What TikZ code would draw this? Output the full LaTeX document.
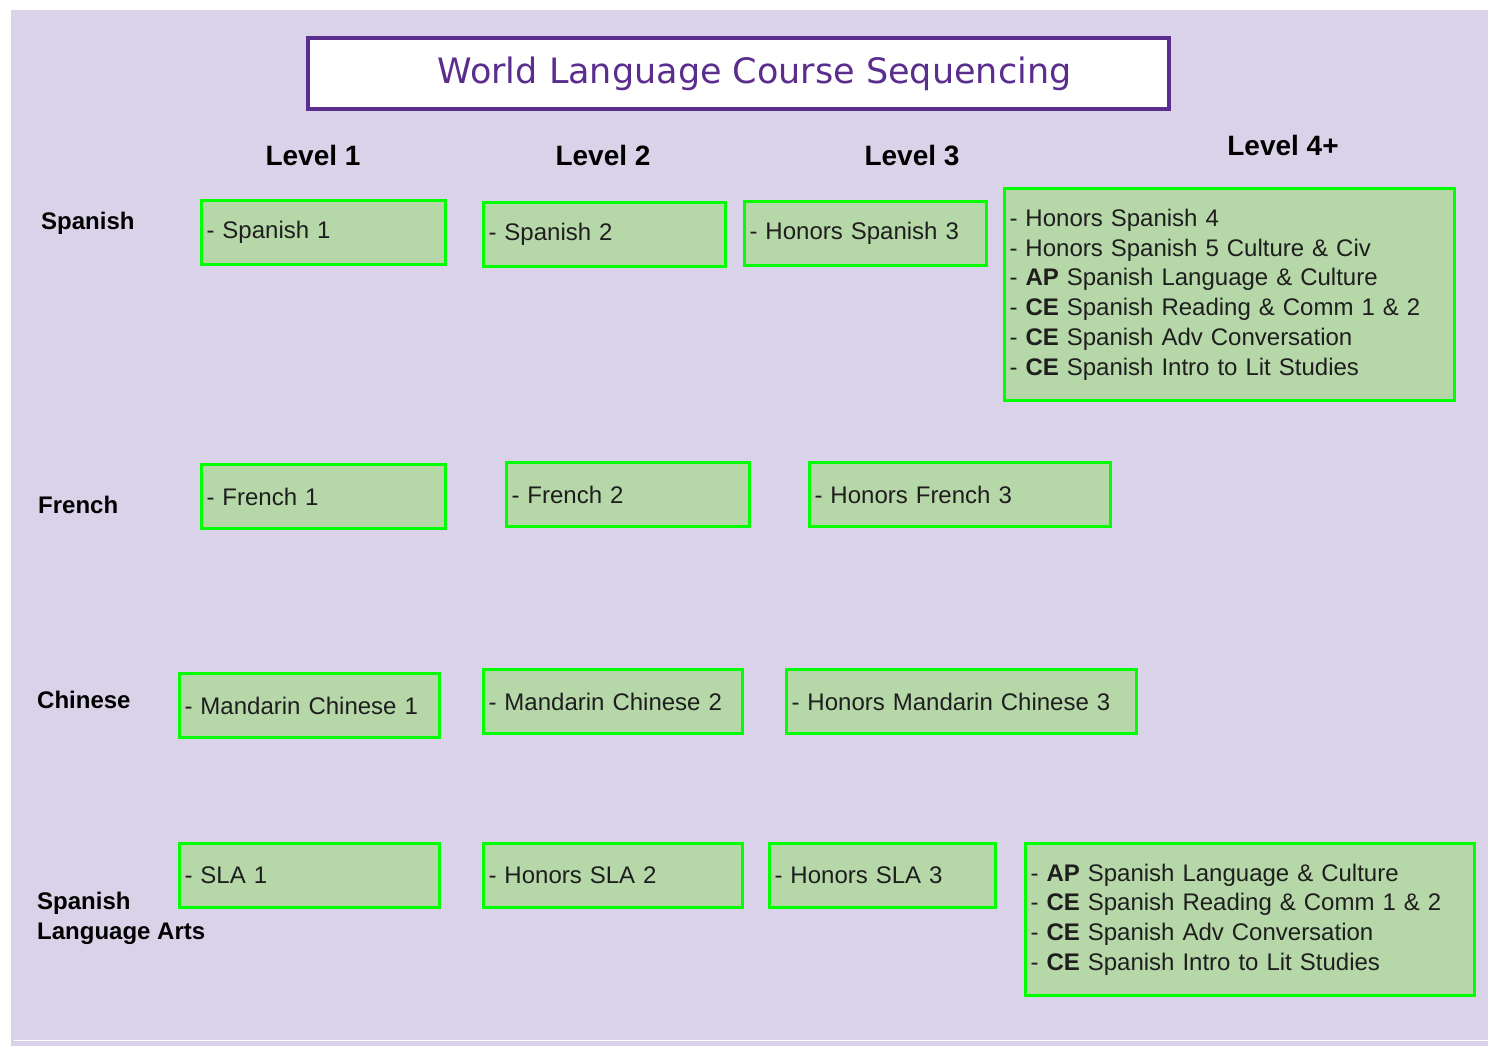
\documentclass[tikz,border=0pt]{standalone}
\usepackage{fontspec}
\setmainfont{Liberation Sans}
\newfontfamily\titlefont{DejaVu Sans}

\definecolor{bglav}{RGB}{217,210,233}
\definecolor{titlepurple}{RGB}{91,45,142}
\definecolor{coursefill}{RGB}{182,215,168}
\definecolor{coursegreen}{RGB}{0,255,0}
\definecolor{coursetext}{RGB}{30,30,30}

\tikzset{
  titlebox/.style = {draw=titlepurple, fill=white, line width=4pt,
                     minimum width=861pt, minimum height=71pt},
  titletext/.style = {text=titlepurple, font=\titlefont\fontsize{35}{42}\selectfont},
  level/.style = {font=\bfseries\fontsize{28}{34}\selectfont, anchor=base},
  lang/.style = {font=\bfseries\fontsize{24}{30}\selectfont, align=left, inner xsep=0pt},
  course/.style = {draw=coursegreen, fill=coursefill, line width=3pt,
                   text=coursetext, inner xsep=5pt, minimum height=64pt,
                   align=left, text width=#1,
                   font=\fontsize{24}{29.8}\selectfont}
}

\begin{document}
\begin{tikzpicture}[x=1pt, y=-1pt]
    \useasboundingbox (0,0) rectangle (1488,1046);

    % Background
    \fill[bglav] (11,10) rectangle (1488,1046);
    \draw[white, line width=1.5pt] (14,1040.5) -- (1488,1040.5);

    % Title
    \node[titlebox] (titlebox) at (738.5,73.5) {};
    \node[titletext, anchor=base] (title) at (754.5,84) {World Language Course Sequencing};

    % Levels
    \foreach \x/\y/\t [count=\i] in {313/165/1, 603/165/2, 912/165/3, 1283/156/4+}
        \node[level] (lvl\i) at (\x,\y) {Level \t};

    % Languages
    \node[lang, anchor=base west] (spanish) at (41,229.5) {Spanish};
    \node[lang, anchor=base west] (french) at (38,513.5) {French};
    \node[lang, anchor=base west] (chinese) at (37,708.5) {Chinese};
    \node[lang, anchor=west] (sla) at (37,918) {Spanish\\Language Arts};

    % Spanish
    \node[course=234pt] (sp1) at (323.5,232.5) {- Spanish 1};
    \node[course=232pt] (sp2) at (604.5,234) {- Spanish 2};
    \node[course=232pt] (sp3) at (865.5,233) {- Honors Spanish 3};
    \node[course=440pt, minimum height=212pt] (sp4) at (1229.5,294.5)
        {- Honors Spanish 4\\
         - Honors Spanish 5 Culture \& Civ\\
         - \textbf{AP} Spanish Language \& Culture\\
         - \textbf{CE} Spanish Reading \& Comm 1 \& 2\\
         - \textbf{CE} Spanish Adv Conversation\\
         - \textbf{CE} Spanish Intro to Lit Studies};

    % French
    \node[course=234pt] (fr1) at (323.5,496.5) {- French 1};
    \node[course=233pt] (fr2) at (628,494.5) {- French 2};
    \node[course=291pt] (fr3) at (960,494.5) {- Honors French 3};

    % Chinese
    \node[course=250pt] (ch1) at (309.5,705.5) {- Mandarin Chinese 1};
    \node[course=249pt] (ch2) at (613,701.5) {- Mandarin Chinese 2};
    \node[course=340pt] (ch3) at (961.5,701.5) {- Honors Mandarin Chinese 3};

    % Spanish Language Arts
    \node[course=250pt] (sla1) at (309.5,875.5) {- SLA 1};
    \node[course=249pt] (sla2) at (613,875.5) {- Honors SLA 2};
    \node[course=216pt] (sla3) at (882.5,875.5) {- Honors SLA 3};
    \node[course=439pt, minimum height=152pt] (sla4) at (1250,919.5)
        {- \textbf{AP} Spanish Language \& Culture\\
         - \textbf{CE} Spanish Reading \& Comm 1 \& 2\\
         - \textbf{CE} Spanish Adv Conversation\\
         - \textbf{CE} Spanish Intro to Lit Studies};

\end{tikzpicture}
\end{document}
